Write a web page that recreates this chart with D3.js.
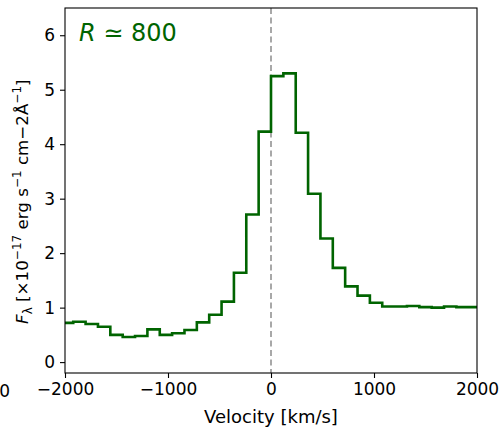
<!DOCTYPE html>
<html>
<head>
<meta charset="utf-8">
<script src="https://cdn.jsdelivr.net/npm/d3@7"></script>
<style>
  body { margin: 0; background: #fff; }
  text { font-family: "DejaVu Sans", sans-serif; }
</style>
</head>
<body>
<div class="chart"></div>
<script>
// bin edges (km/s), 120 km/s bins
const binWidth = 120;
const binStart = -2040;
const flux = [0.72, 0.74, 0.70, 0.65, 0.50, 0.46, 0.48, 0.60, 0.50, 0.53, 0.59, 0.73, 0.87, 1.11, 1.64, 2.71, 4.23,
              5.25, 5.30, 4.21, 3.09, 2.27, 1.73, 1.39, 1.22, 1.09, 1.02, 1.02, 1.03, 1.01, 1.00, 1.02, 1.01, 1.01];
const xTicks = [-2000, -1000, 0, 1000, 2000];
const yTicks = [0, 1, 2, 3, 4, 5, 6];

const W = 500, H = 427;
const margin = {top: 8, right: 23, bottom: 54, left: 65};
const width = W - margin.left - margin.right;
const height = H - margin.top - margin.bottom;

const svgRoot = d3.select(".chart").append("svg")
    .attr("width", W)
    .attr("height", H);

// clipped tick label from neighbouring panel
svgRoot.append("text")
    .attr("x", 10).attr("y", 397)
    .attr("text-anchor", "end")
    .attr("font-size", 17)
    .text("2000");

const svg = svgRoot.append("g")
    .attr("transform", `translate(${margin.left},${margin.top})`);

const x = d3.scaleLinear().domain([-2000, 2000]).range([0, width]);
const y = d3.scaleLinear().domain([-0.2, 6.5]).range([height, 0]);

svg.append("clipPath").attr("id", "clip")
  .append("rect").attr("width", width).attr("height", height);

// points for step line
const pts = flux.map((v, i) => [binStart + i * binWidth, v]);
pts.push([binStart + flux.length * binWidth, flux[flux.length - 1]]);

svg.append("line")
    .attr("x1", x(0)).attr("x2", x(0))
    .attr("y1", 0).attr("y2", height)
    .attr("stroke", "#8c8c8c")
    .attr("stroke-width", 1.5)
    .attr("stroke-dasharray", "6,3.5");

svg.append("path")
    .datum(pts)
    .attr("clip-path", "url(#clip)")
    .attr("fill", "none")
    .attr("stroke", "#006400")
    .attr("stroke-width", 2.6)
    .attr("d", d3.line().x(d => x(d[0])).y(d => y(d[1])).curve(d3.curveStepAfter));

// axes
const fmt = d => d < 0 ? "\u2212" + Math.abs(d) : "" + d;
const xAxis = svg.append("g")
    .attr("transform", `translate(0,${height})`)
    .call(d3.axisBottom(x).tickValues(xTicks).tickFormat(fmt).tickSize(5).tickPadding(5));
const yAxis = svg.append("g")
    .call(d3.axisLeft(y).tickValues(yTicks).tickFormat(fmt).tickSize(5).tickPadding(5));

[xAxis, yAxis].forEach(a => {
  a.select(".domain").remove();
  a.selectAll("text").attr("font-size", 17).attr("font-family", "DejaVu Sans").attr("fill", "#000");
  a.selectAll("line").attr("stroke", "#000").attr("stroke-width", 1.1);
});

svg.append("rect")
    .attr("width", width).attr("height", height)
    .attr("fill", "none").attr("stroke", "#000").attr("stroke-width", 1.1);

// annotation
const ann = svg.append("text")
    .attr("x", 14).attr("y", 33)
    .attr("font-size", 24)
    .attr("fill", "#006400");
ann.append("tspan").attr("font-style", "italic").text("R");
ann.append("tspan").text(" \u2243 800");

// labels
svgRoot.append("text")
    .attr("x", margin.left + x(0)).attr("y", 423)
    .attr("text-anchor", "middle")
    .attr("font-size", 18)
    .text("Velocity [km/s]");

const yl = svgRoot.append("text")
    .attr("transform", `translate(28,${margin.top + y(3) + 3}) rotate(-90)`)
    .attr("text-anchor", "middle")
    .attr("font-size", 16.7);
yl.append("tspan").attr("font-style", "italic").text("F");
yl.append("tspan").attr("font-size", 12).attr("dy", 4).text("\u03bb");
yl.append("tspan").attr("dy", -4).text(" [\u00d710");
yl.append("tspan").attr("font-size", 12).attr("dy", -7).text("\u221217");
yl.append("tspan").attr("dy", 7).text(" erg s");
yl.append("tspan").attr("font-size", 12).attr("dy", -7).text("\u22121");
yl.append("tspan").attr("dy", 7).text(" cm\u22122\u00c5");
yl.append("tspan").attr("font-size", 12).attr("dy", -7).text("\u22121");
yl.append("tspan").attr("dy", 7).text("]");
</script>
</body>
</html>
